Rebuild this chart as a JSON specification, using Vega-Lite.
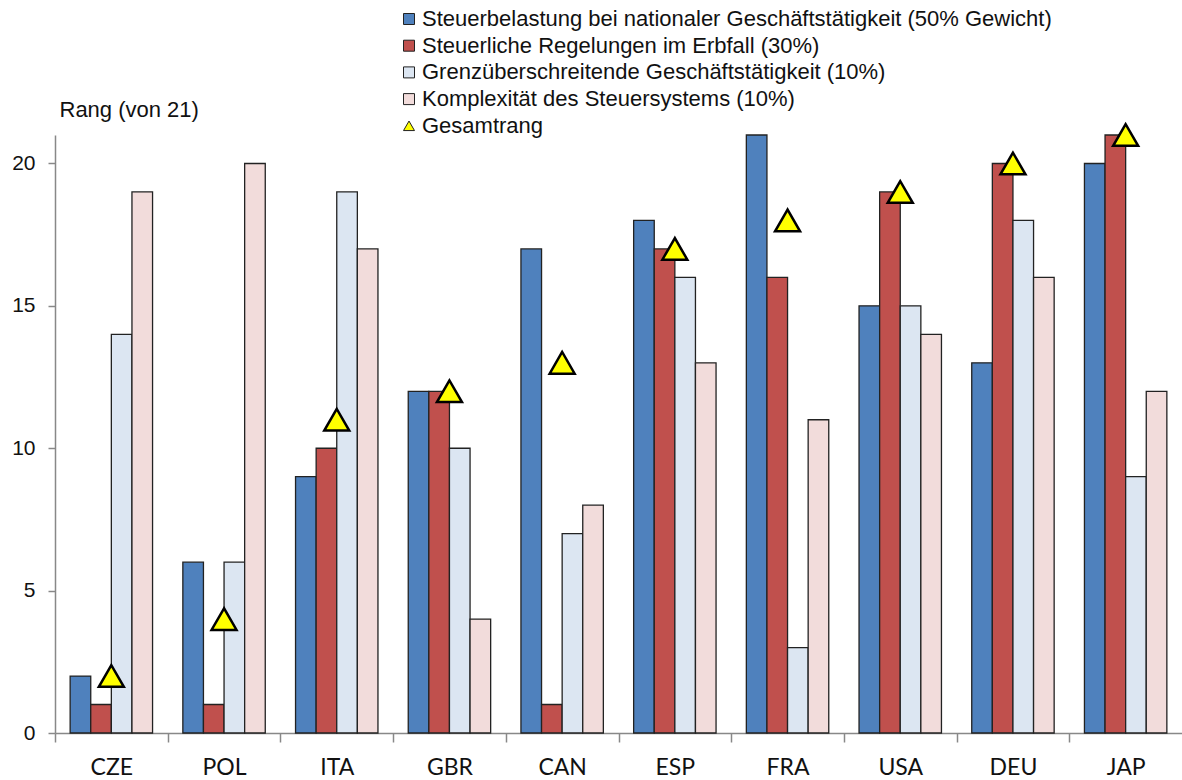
{
  "$schema": "https://vega.github.io/schema/vega-lite/v6.json",
  "width": 1127,
  "height": 598,
  "autosize": {"type": "none"},
  "padding": {"left": 55, "top": 135, "right": 0, "bottom": 47},
  "background": "white",
  "config": {
    "view": {"stroke": null},
    "font": "Liberation Sans"
  },
  "data": {
    "values": [
      {"land": "CZE", "serie": "Steuerbelastung bei nationaler Geschäftstätigkeit (50% Gewicht)", "rang": 2},
      {"land": "CZE", "serie": "Steuerliche Regelungen im Erbfall (30%)", "rang": 1},
      {"land": "CZE", "serie": "Grenzüberschreitende Geschäftstätigkeit (10%)", "rang": 14},
      {"land": "CZE", "serie": "Komplexität des Steuersystems (10%)", "rang": 19},
      {"land": "CZE", "serie": "Gesamtrang", "rang": 2},
      {"land": "POL", "serie": "Steuerbelastung bei nationaler Geschäftstätigkeit (50% Gewicht)", "rang": 6},
      {"land": "POL", "serie": "Steuerliche Regelungen im Erbfall (30%)", "rang": 1},
      {"land": "POL", "serie": "Grenzüberschreitende Geschäftstätigkeit (10%)", "rang": 6},
      {"land": "POL", "serie": "Komplexität des Steuersystems (10%)", "rang": 20},
      {"land": "POL", "serie": "Gesamtrang", "rang": 4},
      {"land": "ITA", "serie": "Steuerbelastung bei nationaler Geschäftstätigkeit (50% Gewicht)", "rang": 9},
      {"land": "ITA", "serie": "Steuerliche Regelungen im Erbfall (30%)", "rang": 10},
      {"land": "ITA", "serie": "Grenzüberschreitende Geschäftstätigkeit (10%)", "rang": 19},
      {"land": "ITA", "serie": "Komplexität des Steuersystems (10%)", "rang": 17},
      {"land": "ITA", "serie": "Gesamtrang", "rang": 11},
      {"land": "GBR", "serie": "Steuerbelastung bei nationaler Geschäftstätigkeit (50% Gewicht)", "rang": 12},
      {"land": "GBR", "serie": "Steuerliche Regelungen im Erbfall (30%)", "rang": 12},
      {"land": "GBR", "serie": "Grenzüberschreitende Geschäftstätigkeit (10%)", "rang": 10},
      {"land": "GBR", "serie": "Komplexität des Steuersystems (10%)", "rang": 4},
      {"land": "GBR", "serie": "Gesamtrang", "rang": 12},
      {"land": "CAN", "serie": "Steuerbelastung bei nationaler Geschäftstätigkeit (50% Gewicht)", "rang": 17},
      {"land": "CAN", "serie": "Steuerliche Regelungen im Erbfall (30%)", "rang": 1},
      {"land": "CAN", "serie": "Grenzüberschreitende Geschäftstätigkeit (10%)", "rang": 7},
      {"land": "CAN", "serie": "Komplexität des Steuersystems (10%)", "rang": 8},
      {"land": "CAN", "serie": "Gesamtrang", "rang": 13},
      {"land": "ESP", "serie": "Steuerbelastung bei nationaler Geschäftstätigkeit (50% Gewicht)", "rang": 18},
      {"land": "ESP", "serie": "Steuerliche Regelungen im Erbfall (30%)", "rang": 17},
      {"land": "ESP", "serie": "Grenzüberschreitende Geschäftstätigkeit (10%)", "rang": 16},
      {"land": "ESP", "serie": "Komplexität des Steuersystems (10%)", "rang": 13},
      {"land": "ESP", "serie": "Gesamtrang", "rang": 17},
      {"land": "FRA", "serie": "Steuerbelastung bei nationaler Geschäftstätigkeit (50% Gewicht)", "rang": 21},
      {"land": "FRA", "serie": "Steuerliche Regelungen im Erbfall (30%)", "rang": 16},
      {"land": "FRA", "serie": "Grenzüberschreitende Geschäftstätigkeit (10%)", "rang": 3},
      {"land": "FRA", "serie": "Komplexität des Steuersystems (10%)", "rang": 11},
      {"land": "FRA", "serie": "Gesamtrang", "rang": 18},
      {"land": "USA", "serie": "Steuerbelastung bei nationaler Geschäftstätigkeit (50% Gewicht)", "rang": 15},
      {"land": "USA", "serie": "Steuerliche Regelungen im Erbfall (30%)", "rang": 19},
      {"land": "USA", "serie": "Grenzüberschreitende Geschäftstätigkeit (10%)", "rang": 15},
      {"land": "USA", "serie": "Komplexität des Steuersystems (10%)", "rang": 14},
      {"land": "USA", "serie": "Gesamtrang", "rang": 19},
      {"land": "DEU", "serie": "Steuerbelastung bei nationaler Geschäftstätigkeit (50% Gewicht)", "rang": 13},
      {"land": "DEU", "serie": "Steuerliche Regelungen im Erbfall (30%)", "rang": 20},
      {"land": "DEU", "serie": "Grenzüberschreitende Geschäftstätigkeit (10%)", "rang": 18},
      {"land": "DEU", "serie": "Komplexität des Steuersystems (10%)", "rang": 16},
      {"land": "DEU", "serie": "Gesamtrang", "rang": 20},
      {"land": "JAP", "serie": "Steuerbelastung bei nationaler Geschäftstätigkeit (50% Gewicht)", "rang": 20},
      {"land": "JAP", "serie": "Steuerliche Regelungen im Erbfall (30%)", "rang": 21},
      {"land": "JAP", "serie": "Grenzüberschreitende Geschäftstätigkeit (10%)", "rang": 9},
      {"land": "JAP", "serie": "Komplexität des Steuersystems (10%)", "rang": 12},
      {"land": "JAP", "serie": "Gesamtrang", "rang": 21}
    ]
  },
  "encoding": {
    "x": {
      "field": "land",
      "type": "nominal",
      "sort": null,
      "scale": {"paddingInner": 0, "paddingOuter": 0},
      "axis": {
        "title": null,
        "labelAngle": 0,
        "labelFont": "Lato",
        "labelFontSize": 23,
        "labelColor": "#111",
        "labelPadding": 14,
        "tickSize": 9,
        "tickOffset": -56.35,
        "labelOffset": 56.35,
        "tickColor": "#888",
        "domainColor": "#888",
        "domainWidth": 1.5,
        "tickWidth": 1.5,
        "grid": false
      }
    },
    "y": {
      "field": "rang",
      "type": "quantitative",
      "scale": {"domain": [0, 21], "nice": false},
      "axis": {
        "title": "Rang (von 21)",
        "titleAngle": 0,
        "titleAlign": "left",
        "titleBaseline": "alphabetic",
        "titleX": 4,
        "titleY": -19,
        "titleFontSize": 22,
        "titleFontWeight": "normal",
        "titleColor": "#111",
        "values": [0, 5, 10, 15, 20],
        "labelFontSize": 21,
        "labelColor": "#111",
        "labelPadding": 13,
        "tickSize": 7,
        "tickColor": "#888",
        "domainColor": "#888",
        "domainWidth": 1.5,
        "tickWidth": 1.5,
        "grid": false
      }
    },
    "color": {
      "field": "serie",
      "type": "nominal",
      "scale": {
        "domain": [
          "Steuerbelastung bei nationaler Geschäftstätigkeit (50% Gewicht)",
          "Steuerliche Regelungen im Erbfall (30%)",
          "Grenzüberschreitende Geschäftstätigkeit (10%)",
          "Komplexität des Steuersystems (10%)",
          "Gesamtrang"
        ],
        "range": ["#4F81BD", "#C0504D", "#DCE6F2", "#F2DCDB", "#FFFF00"]
      },
      "legend": {
        "title": null,
        "orient": "none",
        "legendX": 343,
        "legendY": -127,
        "padding": 0,
        "labelFontSize": 22,
        "labelColor": "#111",
        "labelOffset": 2,
        "labelLimit": 800,
        "rowPadding": 4.7,
        "symbolSize": 121,
        "symbolStrokeColor": "#222",
        "symbolStrokeWidth": 1
      }
    }
  },
  "layer": [
    {
      "transform": [{"filter": "datum.serie !== 'Gesamtrang'"}],
      "mark": {"type": "bar", "stroke": "#222", "strokeWidth": 1.3},
      "encoding": {
        "xOffset": {
          "field": "serie",
          "type": "nominal",
          "sort": null,
          "scale": {
            "domain": [
              "Steuerbelastung bei nationaler Geschäftstätigkeit (50% Gewicht)",
              "Steuerliche Regelungen im Erbfall (30%)",
              "Grenzüberschreitende Geschäftstätigkeit (10%)",
              "Komplexität des Steuersystems (10%)"
            ],
            "paddingInner": 0,
            "paddingOuter": 0.735
          }
        }
      }
    },
    {
      "transform": [{"filter": "datum.serie === 'Gesamtrang'"}],
      "mark": {"type": "point", "filled": true, "size": 625, "stroke": "#000", "strokeWidth": 2.5, "opacity": 1},
      "encoding": {
        "shape": {
          "field": "serie",
          "type": "nominal",
          "scale": {
            "domain": [
              "Steuerbelastung bei nationaler Geschäftstätigkeit (50% Gewicht)",
              "Steuerliche Regelungen im Erbfall (30%)",
              "Grenzüberschreitende Geschäftstätigkeit (10%)",
              "Komplexität des Steuersystems (10%)",
              "Gesamtrang"
            ],
            "range": ["square", "square", "square", "square", "triangle-up"]
          },
          "legend": {
            "title": null,
            "orient": "none",
            "legendX": 343,
            "legendY": -127,
            "padding": 0,
            "labelFontSize": 22,
            "labelColor": "#111",
            "labelOffset": 2,
            "labelLimit": 800,
            "rowPadding": 4.7,
            "symbolSize": 121,
            "symbolStrokeColor": "#222",
            "symbolStrokeWidth": 1
          }
        }
      }
    }
  ]
}
